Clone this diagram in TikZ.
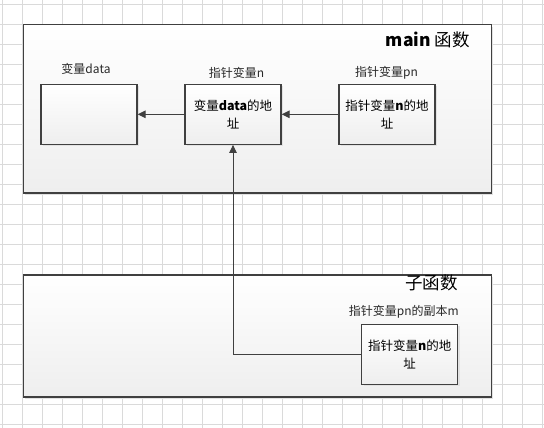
\documentclass[tikz,border=0pt]{standalone}
\usepackage{fontspec}
\setmainfont{Noto Sans CJK SC}
\usepackage{xcolor}
\usetikzlibrary{arrows.meta, positioning, shadows}
\definecolor{linegray}{RGB}{64,64,64}
\definecolor{gridgray}{RGB}{218,218,218}
\definecolor{shadowgray}{RGB}{226,226,226}
\definecolor{fillbottom}{RGB}{238,238,238}
\definecolor{textgray}{RGB}{40,40,40}

\tikzset{
  frame/.style={draw=linegray, line width=1.2pt, top color=white, bottom color=fillbottom,
    anchor=north west, inner sep=0pt,
    drop shadow={shadow xshift=2pt, shadow yshift=-2pt, fill=shadowgray, opacity=1}},
  varbox/.style={draw=linegray, line width=1.2pt, top color=white, bottom color=fillbottom,
    minimum width=96pt, minimum height=60pt, inner sep=0pt, align=center,
    font=\fontsize{12.5}{17.5}\selectfont, text=black,
    drop shadow={shadow xshift=2pt, shadow yshift=-2pt, fill=shadowgray, opacity=1}},
  lbl/.style={font=\fontsize{12}{14}\selectfont, text=textgray, inner sep=0pt},
  ttl/.style={font=\fontsize{17.5}{19}\selectfont, text=black, inner sep=0pt, anchor=east},
  conn/.style={draw=linegray, line width=1pt, -{Triangle[length=8pt,width=7.5pt]}}
}

\begin{document}
\begin{tikzpicture}[x=1pt, y=-1pt]
    \useasboundingbox (0,0) rectangle (544,428);
    \fill[white] (0,0) rectangle (544,428);

    % --- grade de fundo ---
    \foreach \k in {0,...,27} {
      \draw[gridgray, line width=0.8pt] (2.7+20*\k,0) -- (2.7+20*\k,428);
    }
    \foreach \k in {0,...,21} {
      \draw[gridgray, line width=0.8pt] (0,4.3+20*\k) -- (544,4.3+20*\k);
    }

    % --- quadro main ---
    \node[frame, minimum width=468pt, minimum height=168pt] (mainfr) at (22.7,24.3) {};
    \node[ttl] (maintitle) at (470,40) {\textbf{main} 函数};

    % --- quadro subfuncao ---
    \node[frame, minimum width=468pt, minimum height=122pt] (subfr) at (22.7,274.3) {};
    \node[ttl] (subtitle) at (458,283) {子函数};

    % --- variaveis do main ---
    \node[varbox] (data) at (89,114.3) {};
    \node[varbox] (n) at (233,114.3) {变量\textbf{data}的地\\址};
    \node[varbox] (pn) at (387,114.3) {指针变量\textbf{n}的地\\址};
    \node[lbl] (datalbl) at (86,69) {变量data};
    \node[lbl] (nlbl) at (236.5,73) {指针变量n};
    \node[lbl] (pnlbl) at (386.5,73) {指针变量pn};

    % --- copia na subfuncao ---
    \node[varbox] (m) at (409.7,354.3) {指针变量\textbf{n}的地\\址};
    \node[lbl, anchor=east] (mlbl) at (459,312) {指针变量pn的副本m};

    % --- setas ---
    \draw[conn] (n.west) -- (data.east);
    \draw[conn] (pn.west) -- (n.east);
    \draw[conn] (m.west) -| (n.south);
\end{tikzpicture}
\end{document}
